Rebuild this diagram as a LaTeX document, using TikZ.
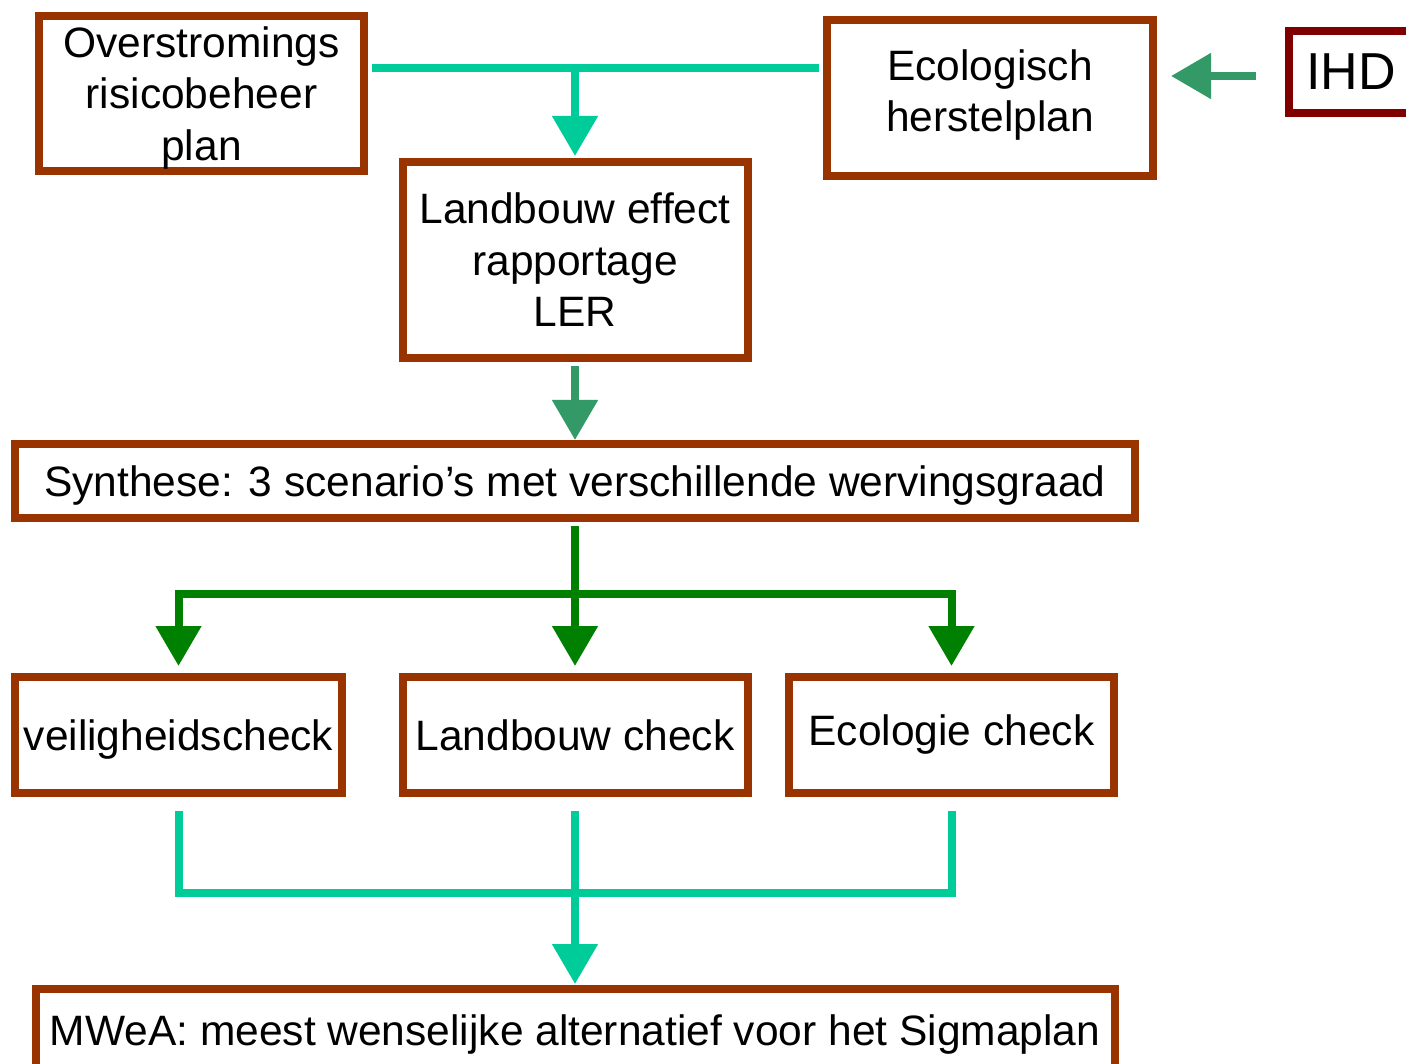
\documentclass[tikz,border=0pt]{standalone}
\usepackage{fontspec}
\setmainfont{Liberation Sans}
\usetikzlibrary{arrows.meta}
\definecolor{boxbrown}{HTML}{993300}
\definecolor{ihdred}{HTML}{800000}
\definecolor{flowteal}{HTML}{00CC99}
\definecolor{flowgreen}{HTML}{008000}
\definecolor{seagreen}{HTML}{339966}
\begin{document}
\begin{tikzpicture}[x=1pt,y=-1pt,
  box/.style={draw=boxbrown, line width=8pt, rectangle, align=center, inner sep=0pt, font=\fontsize{42.5}{51.5}\selectfont},
  link/.style={line width=8pt},
  tip/.style={-{Triangle[width=44pt,length=40pt]}}]
\clip (0,0) rectangle (1406,1064);
\node[box, text depth=0pt, minimum width=325pt, minimum height=155pt] (a) at (201.5,93.5) {Overstromings\\risicobeheer\\plan};
\node[box, text depth=15pt, minimum width=326pt, minimum height=156pt] (b) at (990,98) {Ecologisch\\herstelplan};
\node[box, draw=ihdred, minimum width=124pt, minimum height=82pt, font=\fontsize{52}{60}\selectfont] (g) at (1351,72) {IHD};
\node[box, minimum width=345pt, minimum height=196pt] (c) at (575,260) {Landbouw effect\\rapportage\\LER};
\node[box, text depth=0pt, minimum width=1120pt, minimum height=74pt] (d) at (575,481) {Synthese: 3 scenario’s met verschillende wervingsgraad};
\node[box, text depth=0pt, minimum width=327pt, minimum height=116pt] (e1) at (178.5,735) {veiligheidscheck};
\node[box, minimum width=345pt, minimum height=116pt] (e2) at (575,735) {Landbouw check};
\node[box, minimum width=325pt, minimum height=116pt] (e3) at (951.5,735) {Ecologie check};
\node[box, text depth=0pt, minimum width=1079pt, minimum height=82pt] (f) at (575,1030) {MWeA: meest wenselijke alternatief voor het Sigmaplan};
% top inputs
\coordinate (j1) at (575,68);
\draw[link, flowteal, shorten <=4pt, shorten >=4pt] (a.east |- j1) -- (b.west |- j1);
\draw[link, flowteal, tip, shorten >=2pt] (j1) -- (c.north);
\draw[link, seagreen, tip, shorten <=29pt, shorten >=14pt] (g.west |- 0,76) -- (b.east |- 0,76);
\draw[link, seagreen, tip, shorten <=4pt, shorten >=0pt] (c.south) -- (d.north);
% checks
\coordinate (j2) at (575,594);
\draw[link, flowgreen, tip, shorten <=4pt, shorten >=7pt] (d.south) -- (e2.north);
\draw[link, flowgreen, tip, shorten >=7pt] (j2) -| (e1.north);
\draw[link, flowgreen, tip, shorten >=7pt] (j2) -| (e3.north);
% result
\coordinate (j3) at (575,893);
\draw[link, flowteal, shorten <=14pt] (e1.south) |- (j3);
\draw[link, flowteal, shorten <=14pt] (e3.south) |- (j3);
\draw[link, flowteal, tip, shorten <=14pt, shorten >=1pt] (e2.south) -- (f.north);
\end{tikzpicture}
\end{document}
